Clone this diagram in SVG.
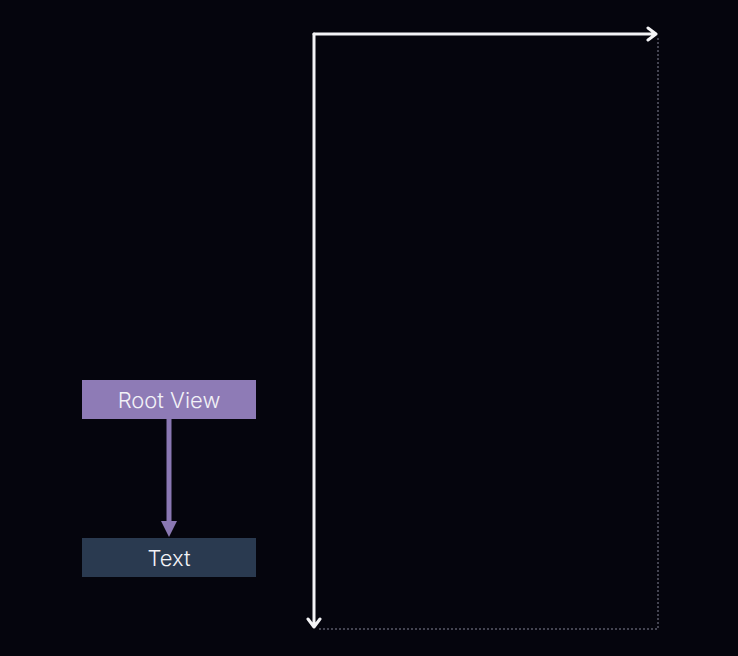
<svg xmlns="http://www.w3.org/2000/svg" width="738" height="656" viewBox="0 0 738 656">
<style>
.lbl{font-family:"Inter","Liberation Sans",sans-serif;font-size:22px;font-weight:300;fill:#f2f2f7;text-anchor:middle}
.axis{stroke:#f4f4f6;stroke-width:3;fill:none;stroke-linecap:round;stroke-linejoin:round}
.dot{stroke:#5a5a68;stroke-width:1.5;stroke-dasharray:2 2;fill:none}
</style>
<rect width="738" height="656" fill="#05050d"/>
<g id="connectors">
<line x1="169" y1="419" x2="169" y2="522" stroke="#8a78b3" stroke-width="5"/>
<polygon points="161,521 177,521 169,537" fill="#8a78b3"/>
<path class="dot" d="M658 38 V629 H318"/>
<path class="axis" d="M314 34 H656 M648 28 L656 34 L648 40"/>
<path class="axis" d="M314 34 V627 M308 619 L314 627 L320 619"/>
</g>
<g id="root-view">
<rect x="82" y="380" width="174" height="39" fill="#8e7bb6"/>
<text class="lbl" x="169" y="408">Root View</text>
</g>
<g id="text">
<rect x="82" y="538" width="174" height="39" fill="#2a3a50"/>
<text class="lbl" x="169" y="566">Text</text>
</g>
</svg>
